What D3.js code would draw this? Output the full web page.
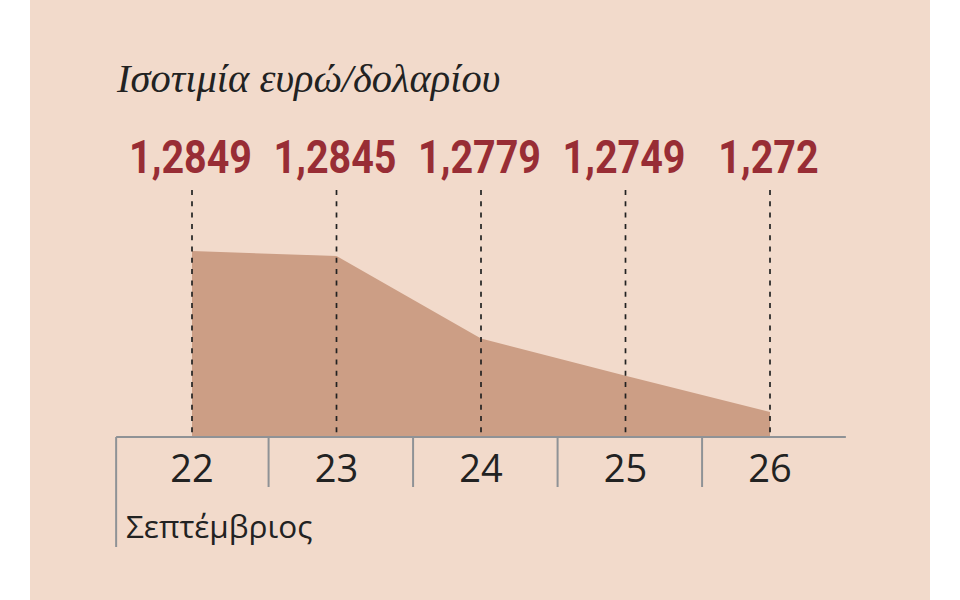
<!DOCTYPE html>
<html>
<head>
<meta charset="utf-8">
<script src="https://cdn.jsdelivr.net/npm/d3@7"></script>
<style>
  html, body { margin: 0; padding: 0; background: #ffffff; }
  svg { display: block; }
</style>
</head>
<body>
<svg id="chart" width="960" height="600"></svg>
<script>
// ---- data ----
const days = [22, 23, 24, 25, 26];
const rates = [1.2849, 1.2845, 1.2779, 1.2749, 1.272];
const rateLabels = ["1,2849", "1,2845", "1,2779", "1,2749", "1,272"];
const title = "Ισοτιμία ευρώ/δολαρίου";
const monthLabel = "Σεπτέμβριος";
const yBase = 1.270;

const svg = d3.select("#chart");

// background panel
svg.append("rect").attr("x", 30).attr("y", 0).attr("width", 900).attr("height", 600)
  .attr("fill", "#f2dacb");

const x = d3.scaleLinear().domain([22, 26]).range([192, 770]);
const y = d3.scaleLinear().domain([yBase, 1.2849]).range([437, 251]);
const step = x(23) - x(22);

const data = days.map((d, i) => ({ day: d, rate: rates[i], label: rateLabels[i] }));

// area
const area = d3.area()
  .x(d => x(d.day))
  .y0(y(yBase))
  .y1(d => y(d.rate));
svg.append("path").datum(data).attr("d", area).attr("fill", "#cc9e85");

// dashed verticals
svg.append("g").selectAll("line").data(data).join("line")
  .attr("x1", d => x(d.day)).attr("x2", d => x(d.day))
  .attr("y1", 190).attr("y2", y(yBase) + 1)
  .attr("stroke", "#222").attr("stroke-width", 1.7)
  .attr("stroke-dasharray", "5,6.3");

// value labels (condensed bold via horizontal scaling)
svg.append("g").selectAll("text").data(data).join("text")
  .attr("transform", d => `translate(${x(d.day) - 1.5},173) scale(0.84,1)`)
  .attr("text-anchor", "middle")
  .attr("font-family", "Roboto, 'Noto Sans', sans-serif")
  .attr("font-weight", "bold")
  .attr("font-size", 47)
  .attr("fill", "#982d35")
  .text(d => d.label);

// title
svg.append("text").attr("x", 117).attr("y", 92)
  .attr("font-family", "'Liberation Serif', 'DejaVu Serif', serif")
  .attr("font-style", "italic")
  .attr("font-size", 40.5)
  .attr("fill", "#222")
  .text(title);

// axis
const axisY = y(yBase);
const left = x(days[0]) - step * 0.525;
const right = x(days[days.length - 1]) + step * 0.525;
const axisColor = "#8f9296";
svg.append("line").attr("x1", left).attr("x2", right).attr("y1", axisY).attr("y2", axisY)
  .attr("stroke", axisColor).attr("stroke-width", 2);

// section dividers
const dividers = days.slice(1).map(d => x(d) - step * 0.47);
svg.append("g").selectAll("line").data(dividers).join("line")
  .attr("x1", d => d).attr("x2", d => d)
  .attr("y1", axisY).attr("y2", 487)
  .attr("stroke", axisColor).attr("stroke-width", 2);
svg.append("line").attr("x1", left).attr("x2", left).attr("y1", axisY).attr("y2", 547)
  .attr("stroke", axisColor).attr("stroke-width", 2);

// day labels
svg.append("g").selectAll("text").data(data).join("text")
  .attr("x", d => x(d.day)).attr("y", 482)
  .attr("text-anchor", "middle")
  .attr("font-family", "'Open Sans', sans-serif")
  .attr("font-size", 38)
  .attr("fill", "#222")
  .text(d => d.day);

// month label
svg.append("text").attr("x", 126).attr("y", 538)
  .attr("font-family", "'Open Sans', sans-serif")
  .attr("font-size", 31.5)
  .attr("fill", "#222")
  .text(monthLabel);
</script>
</body>
</html>
